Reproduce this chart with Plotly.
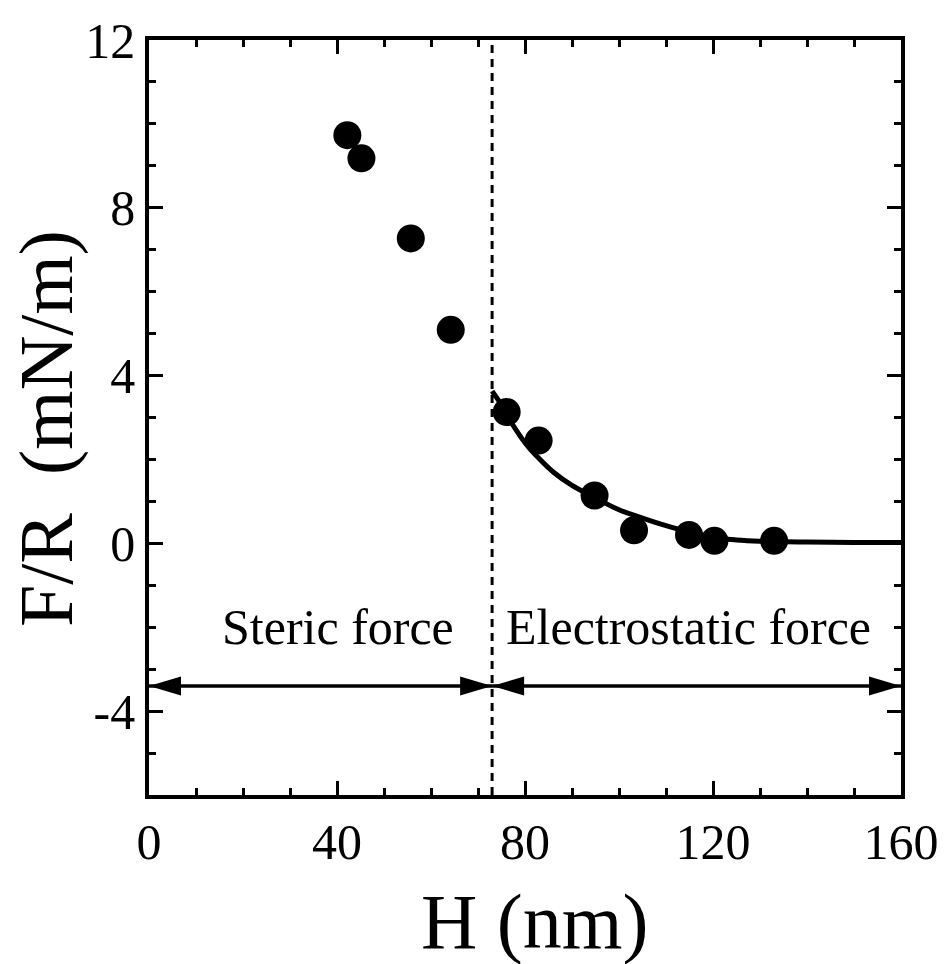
import plotly.graph_objects as go

# Measured force–distance data
H_nm = [42.2, 45.2, 55.7, 64.2, 76.1, 82.9, 94.8, 103.2, 114.9, 120.3, 133.0]
F_over_R = [9.73, 9.18, 7.27, 5.09, 3.13, 2.45, 1.14, 0.31, 0.20, 0.06, 0.06]

# Electrostatic fit curve (H, F/R)
fit_H = [73, 75, 77, 80, 83, 86, 90, 95, 100, 105, 110, 115, 120, 125, 130, 140, 150, 160]
fit_F = [3.63, 3.30, 2.90, 2.40, 2.02, 1.70, 1.38, 1.08, 0.80, 0.60, 0.42, 0.27, 0.14, 0.08, 0.05, 0.03, 0.02, 0.02]

# Regime boundary and region labels
boundary_H = 73
arrow_F = -3.4
x_range = [0, 160]
y_range = [-6, 12]
region_labels = ["Steric force", "Electrostatic force"]
region_label_H = [40.3, 114.8]
region_label_F = -2.0

x_ticks = [0, 40, 80, 120, 160]
x_ticktext = ["0", "40", "80", "120", "160"]
y_ticks = [-4, 0, 4, 8, 12]
y_ticktext = ["-4", "0", "4", "8", "12"]

FONT = "Liberation Serif"

fig = go.Figure()

fig.add_trace(go.Scatter(
    x=fit_H, y=fit_F, mode="lines",
    line=dict(color="black", width=5, shape="spline"),
    showlegend=False, hoverinfo="skip",
))
fig.add_trace(go.Scatter(
    x=H_nm, y=F_over_R, mode="markers",
    marker=dict(color="black", size=28, line=dict(width=0)),
    showlegend=False,
))

shapes = []
# dotted boundary between regimes
shapes.append(dict(type="line", xref="x", yref="y",
                   x0=boundary_H, x1=boundary_H, y0=y_range[0], y1=y_range[1],
                   line=dict(color="black", width=3, dash="8px,6px")))
# double-headed arrows spanning each regime
for a, b in [(x_range[0], boundary_H), (boundary_H, x_range[1])]:
    shapes.append(dict(type="line", xref="x", yref="y",
                       x0=a, x1=b, y0=arrow_F, y1=arrow_F,
                       line=dict(color="black", width=3.5)))
    # left-pointing head at a, right-pointing head at b
    for tip, path in [(a, "M0,0 L32,9.5 L32,-9.5 Z"), (b, "M0,0 L-32,9.5 L-32,-9.5 Z")]:
        shapes.append(dict(type="path", xref="x", yref="y",
                           xsizemode="pixel", ysizemode="pixel",
                           xanchor=tip, yanchor=arrow_F, path=path,
                           fillcolor="black", line=dict(width=0)))

annotations = []
for txt, hx in zip(region_labels, region_label_H):
    annotations.append(dict(x=hx, y=region_label_F, xref="x", yref="y",
                            text=txt, showarrow=False,
                            font=dict(family=FONT, size=50, color="black"),
                            xanchor="center", yanchor="middle"))
# axis titles
annotations.append(dict(x=-0.137, y=0.486, xref="paper", yref="paper",
                        text="F/R\u00a0 (mN/m)", textangle=-90, showarrow=False,
                        font=dict(family=FONT, size=76, color="black"),
                        xanchor="center", yanchor="middle"))
annotations.append(dict(x=0.5125, y=-0.168, xref="paper", yref="paper",
                        text="H (nm)", showarrow=False,
                        font=dict(family=FONT, size=78, color="black"),
                        xanchor="center", yanchor="middle"))

axis_common = dict(
    showgrid=False, zeroline=False, showline=True, linecolor="black", linewidth=3.5,
    mirror="allticks", ticks="inside", ticklen=14, tickwidth=3, tickcolor="black",
    tickfont=dict(family=FONT, size=50, color="black"),
)

fig.update_layout(
    width=951, height=964,
    margin=dict(l=149, r=44, t=32, b=169),
    paper_bgcolor="white", plot_bgcolor="white",
    shapes=shapes, annotations=annotations,
    xaxis=dict(range=x_range, tickvals=x_ticks, ticktext=x_ticktext,
               minor=dict(dtick=10, tick0=0, ticks="inside", ticklen=7, tickwidth=3, tickcolor="black"),
               **axis_common),
    yaxis=dict(range=y_range, tickvals=y_ticks, ticktext=y_ticktext,
               minor=dict(dtick=1, tick0=0, ticks="inside", ticklen=7, tickwidth=3, tickcolor="black"),
               **axis_common),
)

fig.write_html("out.html")
